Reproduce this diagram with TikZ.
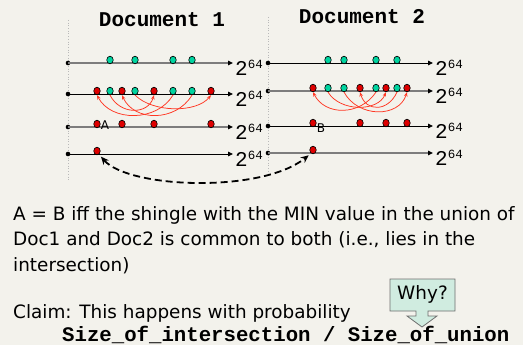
\documentclass[tikz,border=0pt]{standalone}
\usepackage{fontspec}
\setmainfont{DejaVu Sans}
\newfontfamily\monofam{Liberation Mono}
\usetikzlibrary{shapes.geometric,arrows.meta}
\definecolor{bgc}{RGB}{243,242,236}
\definecolor{shgreen}{RGB}{0,212,160}
\definecolor{shred}{RGB}{222,0,0}
\definecolor{arcred}{RGB}{255,55,35}
\definecolor{axgray}{RGB}{125,125,125}
\definecolor{whyfill}{RGB}{208,236,224}
\begin{document}
\begin{tikzpicture}[x=1pt,y=-1pt,
  divider/.style={draw={rgb,255:red,185;green,185;blue,185},line width=0.7pt,dotted},
  titletext/.style={font=\monofam\bfseries\fontsize{21}{21}\selectfont,inner sep=0pt},
  endpt/.style={circle,fill=black,minimum size=4.6pt,inner sep=0pt},
  grayax/.style={draw=axgray,line width=1.7pt,-{Triangle[length=5pt,width=4.5pt,color=black]}},
  blackax/.style={draw=black,line width=0.9pt,-{Triangle[length=5pt,width=4.5pt]}},
  exptext/.style={font=\monofam\fontsize{21}{21}\selectfont,inner sep=0pt,anchor=base west},
  gdot/.style={ellipse,draw=black,line width=0.6pt,fill=shgreen,minimum width=6.5pt,minimum height=7.6pt,inner sep=0pt},
  rdot/.style={ellipse,draw=black,line width=0.6pt,fill=shred,minimum width=6.5pt,minimum height=7.6pt,inner sep=0pt},
  redarc/.style={draw=arcred,line width=0.75pt,-{Stealth[length=4.5pt,width=3.5pt]}},
  dasharc/.style={draw=black,line width=1.8pt,dash pattern=on 7pt off 4pt,{Stealth[length=8pt,width=7pt]}-{Stealth[length=8pt,width=7pt]},shorten <=3pt,shorten >=3pt},
  bodytext/.style={font=\fontsize{18.4}{18.4}\selectfont,inner sep=0pt,anchor=base west},
  lettertext/.style={font=\fontsize{12}{12}\selectfont,inner sep=0pt},
  codetext/.style={font=\monofam\bfseries\fontsize{20.7}{20.7}\selectfont,inner sep=0pt,anchor=base west}
]
\useasboundingbox[fill=bgc] (0,0) rectangle (523,345);

% dividers
\draw[divider] (68,20) -- (68,180);
\draw[divider] (268,17) -- (268,176);

% titles
\node[titletext] (t1) at (162,20) {Document 1};
\node[titletext] (t2) at (362,17) {Document 2};

% axes document 1
\foreach \i/\y/\st in {1/63/grayax,2/94/blackax,3/127/grayax,4/154/blackax}{
  \node[endpt] (sa\i) at (68,\y) {};
  \coordinate (ea\i) at (233,\y);
  \draw[\st] (sa\i.center) -- (ea\i);
  \node[exptext] (xa\i) at (235,\y+13) {2\raisebox{7pt}{\fontsize{12.5}{12.5}\selectfont 64}};
}
% axes document 2
\foreach \i/\y/\st in {1/63/blackax,2/91/grayax,3/126/blackax,4/153/grayax}{
  \node[endpt] (sb\i) at (268,\y) {};
  \coordinate (eb\i) at (433,\y);
  \draw[\st] (sb\i.center) -- (eb\i);
  \node[exptext] (xb\i) at (435,\y+13) {2\raisebox{7pt}{\fontsize{12.5}{12.5}\selectfont 64}};
}

% document 1 row 1
\node[gdot] (g11) at (110,60) {};
\node[gdot] (g12) at (135,60) {};
\node[gdot] (g13) at (173,60) {};
\node[gdot] (g14) at (192,60) {};
% document 1 row 2
\node[rdot] (ra1) at (97,91) {};
\node[gdot] (ga1) at (110,91) {};
\node[rdot] (ra2) at (122,91) {};
\node[gdot] (ga2) at (135,91) {};
\node[rdot] (ra3) at (154,91) {};
\node[gdot] (ga3) at (173,91) {};
\node[gdot] (ga4) at (192,91) {};
\node[rdot] (ra4) at (211,91) {};
% document 1 row 3
\node[rdot] (r31) at (97,124) {};
\node[rdot] (r32) at (122,124) {};
\node[rdot] (r33) at (154,124) {};
\node[rdot] (r34) at (211,124) {};
% document 1 row 4
\node[rdot] (a4) at (97,151) {};

% document 2 row 1
\node[gdot] (h11) at (328,60) {};
\node[gdot] (h12) at (344,60) {};
\node[gdot] (h13) at (376,60) {};
\node[gdot] (h14) at (397,60) {};
% document 2 row 2
\node[rdot] (rb1) at (313,88) {};
\node[gdot] (gb1) at (328,88) {};
\node[gdot] (gb2) at (344,88) {};
\node[rdot] (rb2) at (360,88) {};
\node[gdot] (gb3) at (376,88) {};
\node[rdot] (rb3) at (386,88) {};
\node[gdot] (gb4) at (397,88) {};
\node[rdot] (rb4) at (407,88) {};
% document 2 row 3
\node[rdot] (s31) at (313,123) {};
\node[rdot] (s32) at (360,123) {};
\node[rdot] (s33) at (386,123) {};
\node[rdot] (s34) at (407,123) {};
% document 2 row 4
\node[rdot] (b4) at (313,150) {};

% arcs document 1
\draw[redarc] (ga1.south) .. controls (120,115) and (148,115) .. (ra3.south);
\draw[redarc] (ga2.south) .. controls (153,113) and (197,113) .. (ra4.south);
\draw[redarc] (ga3.south) .. controls (157,122) and (111,122) .. (ra1.south);
\draw[redarc] (ga4.south) .. controls (176,122) and (134,122) .. (ra2.south);
% arcs document 2
\draw[redarc] (gb1.south) .. controls (340,112) and (378,112) .. (rb3.south);
\draw[redarc] (gb2.south) .. controls (358,118) and (399,118) .. (rb4.south);
\draw[redarc] (gb3.south) .. controls (360,116) and (325,116) .. (rb1.south);
\draw[redarc] (gb4.south) .. controls (388,112) and (366,112) .. (rb2.south);

% letters
\node[lettertext] (la) at (105,125) {A};
\node[lettertext] (lb) at (321,128) {B};

% dashed double arrow
\draw[dasharc] (a4.-60) .. controls +(30,34) and +(-50,40) .. (b4.-120);

% text
\node[bodytext] (l1) at (13,220) {A = B iff the shingle with the MIN value in the union of};
\node[bodytext] (l2) at (13,245) {Doc1 and Doc2 is common to both (i.e., lies in the};
\node[bodytext] (l3) at (13,271) {intersection)};
\node[bodytext] (l4) at (13,318) {Claim: This happens with probability};
\node[codetext] (l5) at (62,341) {Size\_of\_intersection / Size\_of\_union};

% why callout
\draw[draw={rgb,255:red,110;green,110;blue,110},line width=0.8pt,fill=whyfill]
  (390,279) -- (455,279) -- (455,311) -- (428,311) -- (428,316) -- (437,316)
  -- (422,327) -- (407,316) -- (416,316) -- (416,311) -- (390,311) -- cycle;
\node[font=\fontsize{18.4}{18.4}\selectfont,inner sep=0pt] (why) at (422.5,294) {Why?};
\end{tikzpicture}
\end{document}
